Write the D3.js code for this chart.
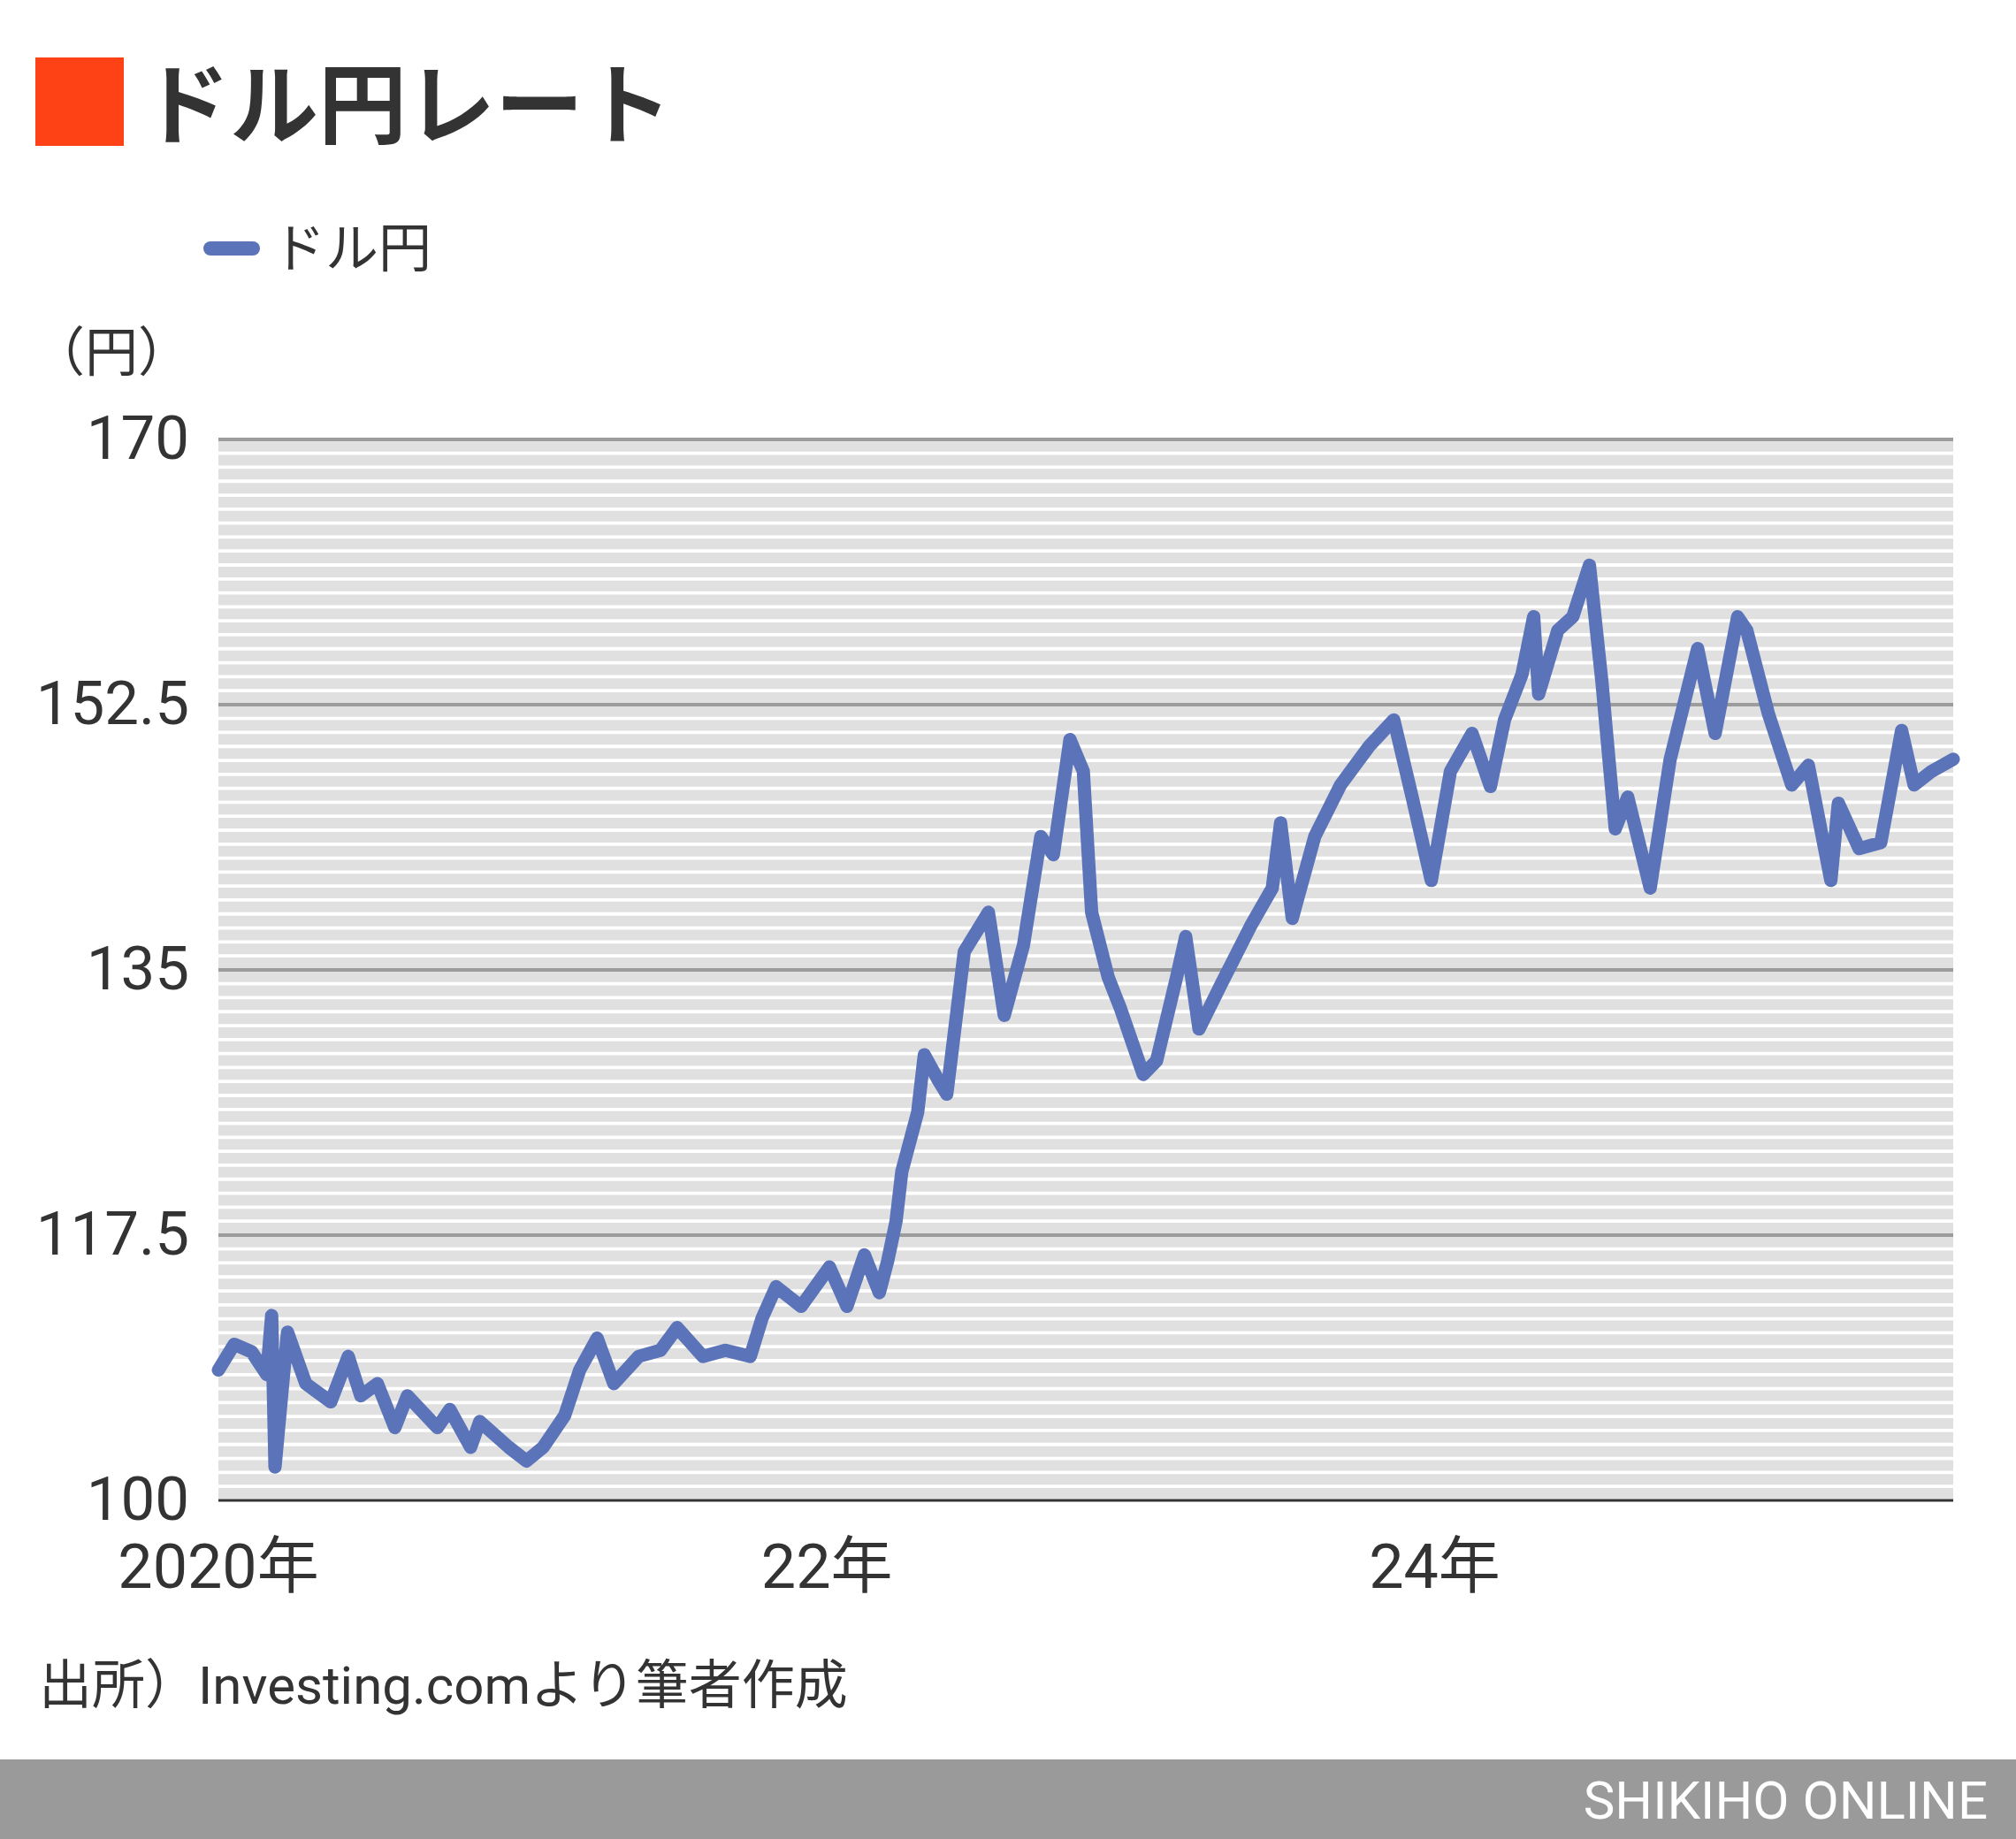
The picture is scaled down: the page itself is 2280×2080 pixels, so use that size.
<!DOCTYPE html>
<html><head><meta charset="utf-8">
<script src="https://cdn.jsdelivr.net/npm/d3@7"></script>
<style>body{margin:0;background:#fff}svg{display:block}text{font-family:Roboto,"Noto Sans CJK JP",sans-serif}</style>
</head><body><svg id="c" width="2280" height="2080"></svg>
<script>
const dates=["2020-01-01","2020-01-20","2020-02-10","2020-02-28","2020-03-05","2020-03-09","2020-03-24","2020-04-15","2020-05-15","2020-06-05","2020-06-20","2020-07-10","2020-07-31","2020-08-15","2020-09-20","2020-10-05","2020-10-30","2020-11-10","2020-12-15","2021-01-05","2021-01-25","2021-02-20","2021-03-10","2021-03-31","2021-04-20","2021-05-20","2021-06-15","2021-07-05","2021-08-05","2021-09-01","2021-10-01","2021-10-15","2021-11-01","2021-12-01","2022-01-04","2022-01-25","2022-02-15","2022-03-05","2022-03-15","2022-03-25","2022-04-01","2022-04-20","2022-04-28","2022-05-15","2022-05-25","2022-06-15","2022-07-14","2022-08-02","2022-08-25","2022-09-15","2022-09-30","2022-10-20","2022-11-05","2022-11-15","2022-12-05","2022-12-20","2023-01-16","2023-02-01","2023-02-25","2023-03-08","2023-03-24","2023-04-20","2023-05-25","2023-06-20","2023-06-30","2023-07-14","2023-08-10","2023-09-10","2023-10-15","2023-11-13","2023-12-05","2023-12-28","2024-01-20","2024-02-15","2024-03-08","2024-03-25","2024-04-15","2024-04-29","2024-05-05","2024-05-28","2024-06-15","2024-07-05","2024-07-20","2024-08-05","2024-08-20","2024-09-16","2024-10-10","2024-11-12","2024-12-03","2024-12-30","2025-01-10","2025-02-05","2025-03-05","2025-03-25","2025-04-21","2025-04-30","2025-05-25","2025-06-20","2025-07-15","2025-07-30","2025-08-20","2025-09-15"];
const usdjpy=[108.6,110.3,109.8,108.3,112.2,102.2,111.1,107.7,106.5,109.5,106.9,107.7,104.8,106.9,104.8,106.0,103.5,105.2,103.5,102.6,103.5,105.6,108.6,110.7,107.7,109.5,109.9,111.4,109.5,109.9,109.5,112.0,114.1,112.8,115.4,112.8,116.2,113.7,115.8,118.4,121.7,125.6,129.4,127.7,126.8,136.2,138.8,132.0,136.6,143.8,142.6,150.2,148.1,138.8,134.5,132.4,128.1,129.0,134.5,137.2,131.1,134.1,137.9,140.4,144.7,138.4,143.8,147.2,149.8,151.5,146.4,140.9,148.1,150.6,147.1,151.5,154.5,158.3,153.2,157.4,158.3,161.7,154.0,144.3,146.4,140.4,148.9,156.2,150.6,158.3,157.4,151.9,147.2,148.5,140.9,146.0,143.0,143.4,150.8,147.2,148.1,148.9];
const yTicks=[100,117.5,135,152.5,170];
const yTickLabels=["100","117.5","135","152.5","170"];
const xTicks=["2020-01-01","2022-01-01","2024-01-01"];
const xTickLabels=["2020年","22年","24年"];

const svg=d3.select("#c");
const L=247,R=2209,T=497,B=1697;
const x=d3.scaleTime().domain([new Date("2020-01-01"),new Date("2025-09-15")]).range([L,R]);
const y=d3.scaleLinear().domain([100,170]).range([B,T]);
const P=d3.timeParse("%Y-%m-%d");
svg.append("rect").attr("x",40).attr("y",65).attr("width",100).attr("height",100).attr("fill","#ff4216");
svg.append("text").attr("x",160).attr("y",155).attr("font-size",100).attr("font-weight",700).attr("fill","#333").text("ドル円レート");
svg.append("line").attr("x1",238).attr("x2",286).attr("y1",281).attr("y2",281).attr("stroke","#5b73b8").attr("stroke-width",16).attr("stroke-linecap","round");
svg.append("text").attr("x",308).attr("y",302).attr("font-size",60).attr("fill","#333").text("ドル円");
svg.append("text").attr("x",36).attr("y",420).attr("font-size",60).attr("fill","#333").text("（円）");
const minor=d3.range(0,76).map(i=>100+i*17.5/19);
svg.append("g").selectAll("line").data(minor.filter(v=>v<170)).join("line")
 .attr("x1",L).attr("x2",R).attr("y1",d=>y(d)-8).attr("y2",d=>y(d)-8)
 .attr("stroke","#e0e0e0").attr("stroke-width",12);
svg.append("g").selectAll("line").data(yTicks.slice(1)).join("line")
 .attr("x1",L).attr("x2",R).attr("y1",d=>y(d)).attr("y2",d=>y(d)).attr("stroke","#9c9c9c").attr("stroke-width",4);
svg.append("line").attr("x1",L).attr("x2",R).attr("y1",B).attr("y2",B).attr("stroke","#333").attr("stroke-width",3);
svg.append("g").selectAll("text").data(yTicks).join("text")
 .attr("x",214).attr("y",d=>y(d)+22).attr("text-anchor","end").attr("font-size",69).attr("fill","#333").text((d,i)=>yTickLabels[i]);
svg.append("g").selectAll("text").data(xTicks).join("text")
 .attr("x",d=>x(P(d))).attr("y",1796).attr("text-anchor","middle").attr("font-size",70).attr("fill","#333").text((d,i)=>xTickLabels[i]);
const data=dates.map((d,i)=>({d:P(d),v:usdjpy[i]}));
svg.append("path").datum(data).attr("fill","none").attr("stroke","#5b73b8").attr("stroke-width",15).attr("stroke-linejoin","round").attr("stroke-linecap","round")
 .attr("d",d3.line().x(d=>x(d.d)).y(d=>y(d.v)));
svg.append("text").attr("x",44).attr("y",1927).attr("font-size",60).attr("fill","#333").text("出所）Investing.comより筆者作成");
svg.append("rect").attr("x",0).attr("y",1990).attr("width",2280).attr("height",90).attr("fill","#9a9a9a");
svg.append("text").attr("x",2248).attr("y",2057).attr("text-anchor","end").attr("font-size",60).attr("fill","#fff").text("SHIKIHO ONLINE");
</script></body></html>
